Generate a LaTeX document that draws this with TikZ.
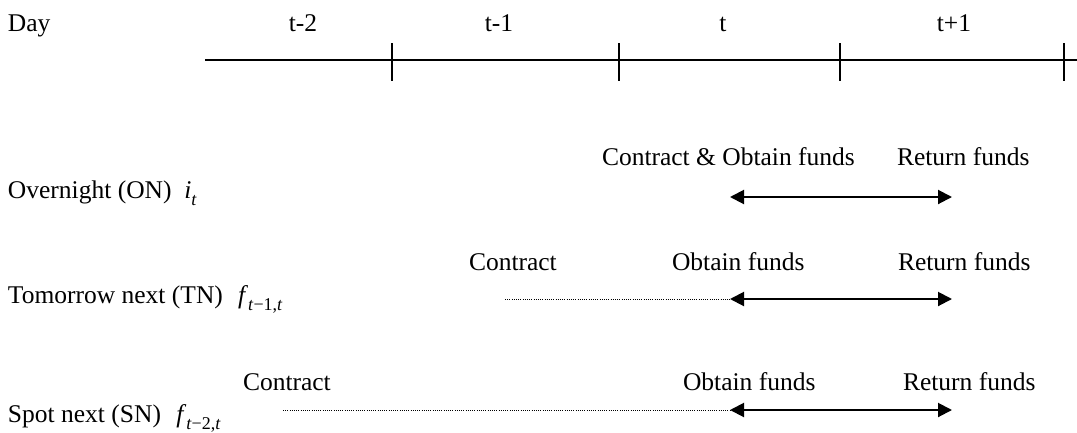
\documentclass[tikz,border=0pt]{standalone}
\usepackage{fontspec}
\setmainfont{Liberation Serif}
\usetikzlibrary{arrows.meta}
\newcommand{\mysub}[1]{\raisebox{-0.3em}{\fontsize{18}{18}\selectfont #1}}
\begin{document}
\begin{tikzpicture}[x=1pt,y=-1pt,
  every node/.style={inner sep=0pt,outer sep=0pt,font=\fontsize{25.5}{29}\selectfont},
  txt/.style={anchor=base west},
  daylbl/.style={anchor=base},
  timeline/.style={line width=1.8pt},
  tickmark/.style={line width=1.4pt},
  period/.style={line width=2pt,{Triangle[length=14pt,width=14pt]}-{Triangle[length=14pt,width=14pt]}},
  wait/.style={line width=1pt,dash pattern=on 1pt off 1.2pt}]
\useasboundingbox (0,0) rectangle (1077,432);
% header
\node[txt] (day) at (8,31) {Day};
\node[daylbl] (d1) at (303,31) {t-2};
\node[daylbl] (d2) at (499,31) {t-1};
\node[daylbl] (d3) at (723,31) {t};
\node[daylbl] (d4) at (954,31) {t+1};
\coordinate (tl0) at (205,60);
\coordinate (tl1) at (1077,60);
\draw[timeline] (tl0) -- (tl1);
\foreach \x in {392,619,840,1064} \draw[tickmark] (\x,43) -- (\x,81);
% row 1
\node[txt] (on) at (8,198) {Overnight (ON)\hspace{0.5em}\textit{i}\mysub{\textit{t}}};
\node[txt] (onc) at (602,165) {Contract \& Obtain funds};
\node[txt] (onr) at (897,165) {Return funds};
\coordinate (ona) at (730,197);
\coordinate (onb) at (952,197);
\draw[period] (ona) -- (onb);
% row 2
\node[txt] (tn) at (8,303) {Tomorrow next (TN)\hspace{0.6em}\textit{f}\mysub{\textit{t}−1,\textit{t}}};
\node[txt] (tnc) at (469,270) {Contract};
\node[txt] (tno) at (672,270) {Obtain funds};
\node[txt] (tnr) at (898,270) {Return funds};
\coordinate (tns) at (505,299);
\coordinate (tna) at (730,299);
\coordinate (tnb) at (952,299);
\draw[wait] (tns) -- (tna);
\draw[period] (tna) -- (tnb);
% row 3
\node[txt] (sn) at (8,422) {Spot next (SN)\hspace{0.6em}\textit{f}\mysub{\textit{t}−2,\textit{t}}};
\node[txt] (snc) at (243,390) {Contract};
\node[txt] (sno) at (683,390) {Obtain funds};
\node[txt] (snr) at (903,390) {Return funds};
\coordinate (sns) at (283,410);
\coordinate (sna) at (730,410);
\coordinate (snb) at (952,410);
\draw[wait] (sns) -- (sna);
\draw[period] (sna) -- (snb);
\end{tikzpicture}
\end{document}
